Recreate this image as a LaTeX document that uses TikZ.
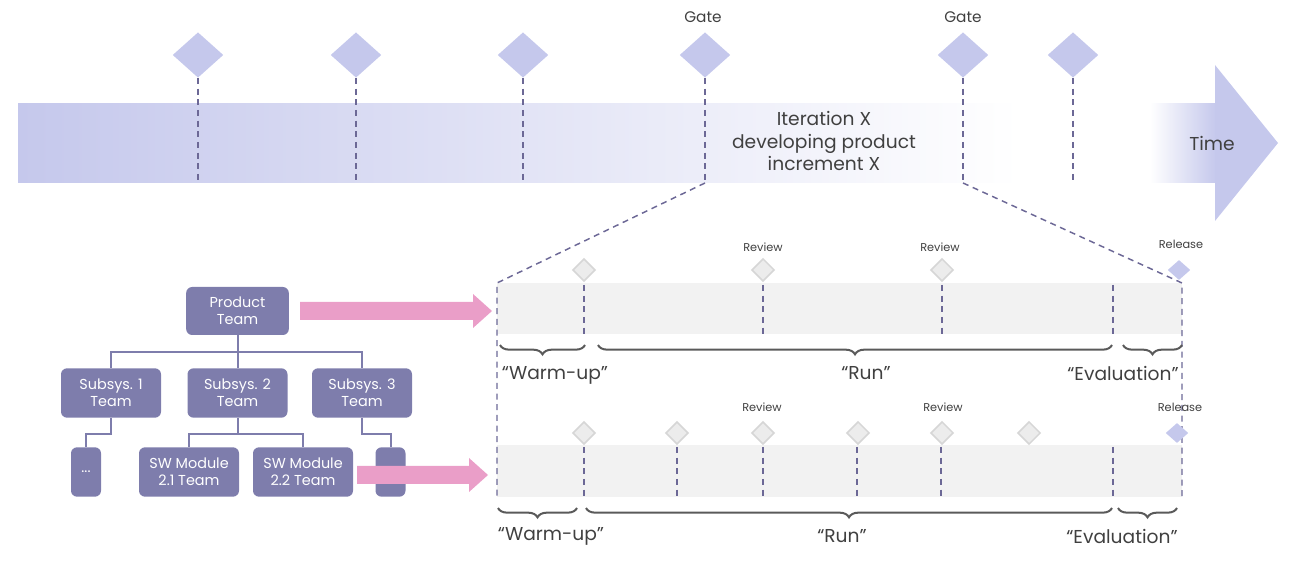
\documentclass[tikz,border=0pt]{standalone}
\usepackage{fontspec}
\setmainfont{Poppins}
\usetikzlibrary{shapes.geometric,decorations.pathreplacing,arrows.meta}
\definecolor{lav}{RGB}{197,200,236}
\definecolor{orgfill}{RGB}{126,125,172}
\definecolor{pinkarr}{RGB}{234,158,200}
\definecolor{dashc}{RGB}{108,104,150}
\definecolor{bandgray}{RGB}{242,242,242}
\definecolor{dgray}{RGB}{236,236,236}
\definecolor{dgrayb}{RGB}{214,214,214}
\definecolor{txt}{RGB}{64,64,64}
\definecolor{bracec}{RGB}{90,90,90}
\newcommand{\sq}{\symbol{34}}
\tikzset{
  bigdia/.style={diamond,fill=lav,draw=none,inner sep=0pt,minimum width=38pt,minimum height=34pt},
  smalldia/.style={diamond,fill=dgray,draw=dgrayb,line width=1.1pt,inner sep=0pt,minimum width=17pt,minimum height=17pt},
  reldia/.style={diamond,fill=lav,draw=none,inner sep=0pt,minimum width=17pt,minimum height=15pt},
  dashln/.style={draw=dashc,line width=1.1pt,dash pattern=on 4.5pt off 3.5pt},
  orgbox/.style={rectangle,rounded corners=4.5pt,fill=orgfill,text=white,align=center,font=\fontsize{10.8}{12.8}\selectfont,inner sep=0pt},
  orgline/.style={draw=orgfill,line width=1.5pt},
  pinkarrow/.style={draw=none,fill=pinkarr},
  bracestyle/.style={draw=bracec,line width=1.5pt,decorate,decoration={brace,mirror,amplitude=7pt}},
  phase/.style={text=txt,font=\fontsize{14}{16}\selectfont,inner sep=0pt},
  small/.style={text=txt,font=\fontsize{8.5}{10}\selectfont,inner sep=0pt},
  gatel/.style={text=txt,font=\fontsize{11.5}{13}\selectfont,inner sep=0pt},
}
\begin{document}
\begin{tikzpicture}[x=0.75pt,y=-0.75pt]
\useasboundingbox (0,0) rectangle (1290,577);
% main time band
\shade[left color=lav,right color=white,draw=none] (18,104) rectangle (1020,183);
\shade[left color=white,right color=lav,draw=none] (1150,104) rectangle (1216,183);
\fill[lav] (1215,65) -- (1278,143) -- (1215,221) -- cycle;
\node[text=txt,font=\fontsize{14}{16}\selectfont] (time) at (1212,143) {Time};
\node[text=txt,font=\fontsize{14}{17}\selectfont,align=center,inner sep=0pt] (iter) at (824,141) {Iteration X\\developing product\\increment X};
% top diamonds
\foreach \n/\x in {m1/198,m2/356,m3/523,g1/705,g2/963,m6/1073}{
  \node[bigdia] (\n) at (\x,55) {};
  \coordinate (\n b) at (\x,183);
  \draw[dashln] (\n.south) -- (\n b);
}
\node[gatel] (gl1) at (703,17) {Gate};
\node[gatel] (gl2) at (963,17) {Gate};
% detail bands
\fill[bandgray] (497,283) rectangle (1182,334);
\fill[bandgray] (497,445) rectangle (1182,497);
\coordinate (tl) at (497,283);
\coordinate (tr) at (1182,283);
\coordinate (bl) at (497,500);
\coordinate (br) at (1182,497);
\draw[dashln] (g1b) -- (tl) -- (bl);
\draw[dashln] (g2b) -- (tr) -- (br);
% band 1 markers
\foreach \n/\x in {a1/584,a2/763,a3/942}{
  \node[smalldia] (\n) at (\x,270) {};
  \draw[dashln] (\x,285) -- (\x,334);
}
\draw[dashln] (1113,285) -- (1113,334);
\node[reldia] (ar) at (1179,270) {};
\node[small] (r1) at (763,247) {Review};
\node[small] (r2) at (940,247) {Review};
\node[small] (rl1) at (1181,244) {Release};
% band 2 markers
\foreach \n/\x in {b1/584,b2/677,b3/763,b4/858,b5/942,b6/1029}{
  \node[smalldia] (\n) at (\x,433) {};
}
\foreach \x in {584,677,763,857,941,1113}{
  \draw[dashln] (\x,447) -- (\x,497);
}
\node[reldia] (brl) at (1177,433) {};
\node[small] (r3) at (762,407) {Review};
\node[small] (r4) at (943,407) {Review};
\node[small] (rl2) at (1180,407) {Release};
% braces band 1
\draw[bracestyle] (500,345) -- (585,345);
\draw[bracestyle] (598,345) -- (1112,345);
\draw[bracestyle] (1123,345) -- (1182,345);
\node[phase] (w1) at (555,375) {“Warm-up\sq};
\node[phase] (run1) at (866,373) {“Run\sq};
\node[phase] (e1) at (1123,373) {“Evaluation\sq};
% braces band 2
\draw[bracestyle] (498,508) -- (577,508);
\draw[bracestyle] (586,508) -- (1112,508);
\draw[bracestyle] (1118,508) -- (1177,508);
\node[phase] (w2) at (551,536) {“Warm-up\sq};
\node[phase] (run2) at (842,536) {“Run\sq};
\node[phase] (e2) at (1122,536) {“Evaluation\sq};
% org chart
\node[orgbox,minimum width=77pt,minimum height=36pt] (pt) at (237.5,311) {Product\\Team};
\node[orgbox,minimum width=75pt,minimum height=37pt] (s1) at (111,393) {Subsys. 1\\Team};
\node[orgbox,minimum width=75pt,minimum height=37pt] (s2) at (237.5,393) {Subsys. 2\\Team};
\node[orgbox,minimum width=75pt,minimum height=37pt] (s3) at (362,393) {Subsys. 3\\Team};
\node[orgbox,minimum width=22.5pt,minimum height=37pt] (dots) at (86,472) {...};
\node[orgbox,minimum width=75pt,minimum height=37pt] (sw1) at (189,472) {SW Module\\2.1 Team};
\node[orgbox,minimum width=75pt,minimum height=37pt] (sw2) at (303,472) {SW Module\\2.2 Team};
\node[orgbox,minimum width=22.5pt,minimum height=37pt] (sx) at (390.5,472) {};
\draw[orgline] (pt.south) -- ++(0,17) -| (s1.north);
\draw[orgline] (pt.south) -- (s2.north);
\draw[orgline] (pt.south) -- ++(0,17) -| (s3.north);
\draw[orgline] (s1.south) -- ++(0,16) -| (dots.north);
\draw[orgline] (s2.south) -- ++(0,16) -| (sw1.north);
\draw[orgline] (s2.south) -- ++(0,16) -| (sw2.north);
\draw[orgline] (s3.south) -- ++(0,16) -| (sx.north);
% pink arrows
\fill[pinkarrow] (300,302) -- (473,302) -- (473,294) -- (492,311) -- (473,328) -- (473,320) -- (300,320) -- cycle;
\fill[pinkarrow] (357,466) -- (469,466) -- (469,458) -- (488,475) -- (469,492) -- (469,484) -- (357,484) -- cycle;
\end{tikzpicture}
\end{document}
